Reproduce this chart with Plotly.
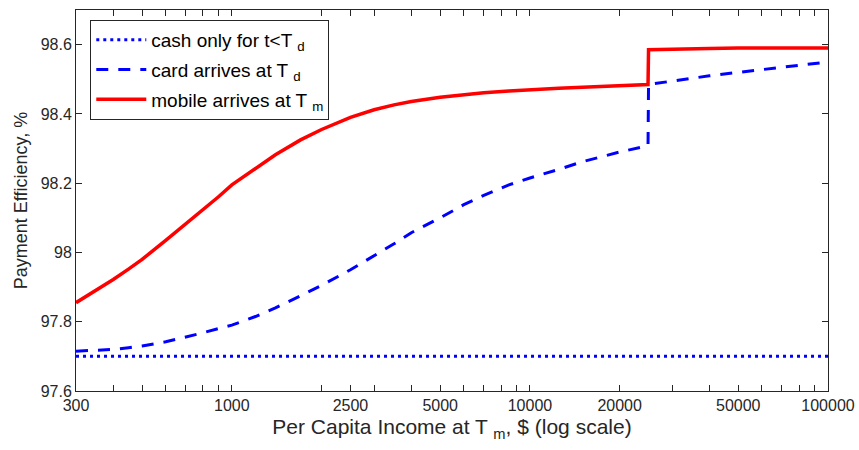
import plotly.graph_objects as go

income = [300, 350, 400, 450, 500, 600, 700, 800, 900, 1000, 1200, 1400, 1700, 2000,
          2500, 3000, 3500, 4000, 5000, 6000, 7000, 8500, 10000, 12500, 15000, 20000,
          24900, 25000, 30000, 40000, 50000, 70000, 100000]
mobile = [97.855, 97.89, 97.922, 97.952, 97.98, 98.035, 98.082, 98.123, 98.16, 98.195,
          98.242, 98.282, 98.325, 98.355, 98.39, 98.412, 98.426, 98.436, 98.448, 98.456,
          98.461, 98.466, 98.47, 98.474, 98.477, 98.481, 98.485, 98.585, 98.587,
          98.589, 98.59, 98.59, 98.59]
card = [97.715, 97.717, 97.72, 97.725, 97.73, 97.742, 97.755, 97.768, 97.78, 97.79,
        97.815, 97.84, 97.875, 97.905, 97.95, 97.99, 98.025, 98.057, 98.10, 98.138,
        98.165, 98.195, 98.215, 98.24, 98.262, 98.29, 98.308, 98.485, 98.495, 98.51,
        98.52, 98.535, 98.55]
cash_x = [300, 100000]
cash = [97.70, 97.70]

tick_labels = {300: "300", 1000: "1000", 2500: "2500", 5000: "5000", 10000: "10000",
               20000: "20000", 50000: "50000", 100000: "100000"}
minor = [400, 500, 600, 700, 800, 900, 2000, 3000, 4000, 6000, 7000, 8000, 9000,
         30000, 40000, 60000, 70000, 80000, 90000]
tickvals = sorted(set(list(tick_labels.keys()) + minor))
ticktext = [tick_labels.get(v, "") for v in tickvals]

font = "Liberation Sans, Arial, sans-serif"

fig = go.Figure()
fig.add_trace(go.Scatter(x=cash_x, y=cash, mode="lines", legendgroup="a",
                         line=dict(color="#0000ff", width=3, dash="3px,4px"),
                         name="cash only for t<T <sub>d</sub>"))
fig.add_trace(go.Scatter(x=income, y=card, mode="lines", legendgroup="b",
                         line=dict(color="#0000ff", width=3, dash="12px,10px"),
                         name="card arrives at T <sub>d</sub>"))
fig.add_trace(go.Scatter(x=income, y=mobile, mode="lines", legendgroup="c",
                         line=dict(color="#ff0000", width=3.5),
                         name="mobile arrives at T <sub>m</sub>"))

fig.update_layout(
    width=859, height=450,
    margin=dict(l=76, r=31, t=10, b=59),
    paper_bgcolor="white", plot_bgcolor="white",
    font=dict(family=font, size=16, color="#262626"),
    showlegend=True,
    legend=dict(x=0.019, y=0.974, xanchor="left", yanchor="top",
                bgcolor="white", bordercolor="#262626", borderwidth=1,
                font=dict(size=19, color="#000000"), tracegroupgap=2,
                itemwidth=50),
    xaxis=dict(type="log", range=[2.4771, 5.0], automargin=False,
               tickvals=tickvals, ticktext=ticktext,
               ticks="inside", ticklen=6, tickcolor="#262626",
               showline=True, linecolor="#262626", linewidth=1, mirror="ticks",
               showgrid=False, zeroline=False,
               title=dict(text="Per Capita Income at T <sub>m</sub>, $ (log scale)",
                          font=dict(size=21), standoff=6)),
    yaxis=dict(range=[97.6, 98.7], automargin=False,
               tickvals=[97.6, 97.8, 98.0, 98.2, 98.4, 98.6],
               ticktext=["97.6", "97.8", "98", "98.2", "98.4", "98.6"],
               ticks="inside", ticklen=6, tickcolor="#262626",
               showline=True, linecolor="#262626", linewidth=1, mirror="ticks",
               showgrid=False, zeroline=False,
               title=dict(text="Payment Efficiency, %", font=dict(size=18), standoff=8)),
)

fig.write_html("out.html")
